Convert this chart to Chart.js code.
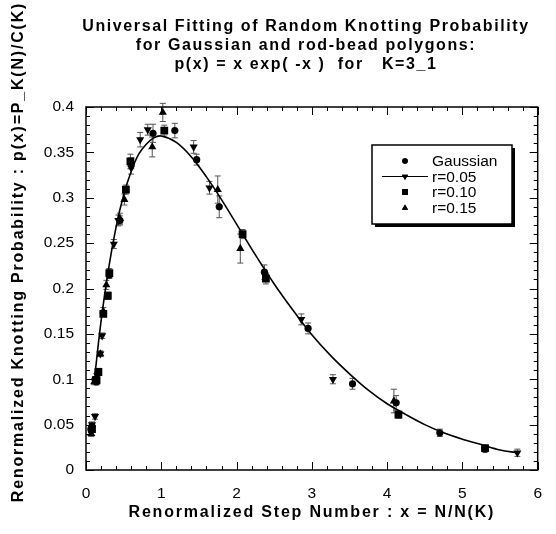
<!DOCTYPE html>
<html>
<head>
<meta charset="utf-8">
<script src="https://cdn.jsdelivr.net/npm/chart.js@4.4.1/dist/chart.umd.min.js"></script>
<style>
  html, body { margin: 0; padding: 0; background: #fff; }
  #wrap { width: 556px; height: 534px; }
</style>
</head>
<body>
<div id="wrap"><canvas id="knotChart" width="556" height="534"></canvas></div>
<script>
// --- data ---
const titleLines = [
  "Universal Fitting of Random Knotting Probability",
  "for Gaussian and rod-bead polygons:",
  "p(x) = x exp( -x )  for   K=3_1"
];
const xAxisTitle = "Renormalized Step Number : x = N/N(K)";
const yAxisTitle = "Renormalized Knotting Probability : p(x)=P_K(N)/C(K)";

const seriesNames = ["Gaussian", "r=0.05", "r=0.10", "r=0.15"];

const gaussX   = [0.065, 0.08, 0.12, 0.14, 0.31, 0.45, 0.60, 0.89, 1.18, 1.47, 1.77, 2.37, 2.95, 3.54, 4.12, 4.70, 5.30];
const gaussY   = [0.045, 0.048, 0.100, 0.097, 0.215, 0.275, 0.338, 0.371, 0.374, 0.342, 0.290, 0.218, 0.156, 0.095, 0.074, 0.041, 0.023];
const gaussErr = [0.003, 0.003, 0.003, 0.003, 0.004, 0.005, 0.006, 0.010, 0.008, 0.006, 0.012, 0.008, 0.006, 0.006, 0.008, 0.004, 0.003];

const r05X   = [0.08, 0.12, 0.15, 0.19, 0.215, 0.37, 0.43, 0.60, 0.72, 0.82, 1.43, 1.64, 2.86, 3.28, 5.73];
const r05Y   = [0.050, 0.059, 0.104, 0.128, 0.148, 0.249, 0.275, 0.333, 0.364, 0.375, 0.356, 0.311, 0.166, 0.100, 0.019];
const r05Err = [0.003, 0.003, 0.003, 0.003, 0.003, 0.005, 0.006, 0.007, 0.008, 0.006, 0.007, 0.007, 0.006, 0.005, 0.004];

const r10X   = [0.08, 0.14, 0.165, 0.23, 0.29, 0.31, 0.53, 0.59, 1.04, 2.08, 2.39, 4.15, 5.30];
const r10Y   = [0.045, 0.099, 0.108, 0.172, 0.192, 0.217, 0.309, 0.340, 0.374, 0.260, 0.211, 0.061, 0.024];
const r10Err = [0.003, 0.003, 0.004, 0.003, 0.004, 0.005, 0.005, 0.008, 0.006, 0.005, 0.006, 0.004, 0.003];

const r15X   = [0.07, 0.11, 0.19, 0.23, 0.27, 0.45, 0.51, 0.88, 1.02, 1.75, 2.05, 4.09];
const r15Y   = [0.040, 0.097, 0.128, 0.175, 0.204, 0.277, 0.298, 0.356, 0.394, 0.309, 0.244, 0.076];
const r15Err = [0.003, 0.003, 0.003, 0.004, 0.005, 0.006, 0.006, 0.011, 0.010, 0.015, 0.016, 0.013];

// fitted curve
const fitX = [0.12, 0.2, 0.3, 0.4, 0.5, 0.6, 0.7, 0.8, 0.9, 1.0, 1.2, 1.4, 1.6, 1.8, 2.0, 2.25, 2.5, 2.75, 3.0, 3.25, 3.5, 3.75, 4.0, 4.25, 4.5, 4.75, 5.0, 5.25, 5.5, 5.73];
const fitY = [0.106, 0.164, 0.222, 0.268, 0.303, 0.329, 0.348, 0.359, 0.366, 0.368, 0.361, 0.345, 0.323, 0.298, 0.271, 0.237, 0.205, 0.176, 0.149, 0.126, 0.106, 0.088, 0.073, 0.061, 0.050, 0.041, 0.034, 0.028, 0.022, 0.019];

const FONT = "'Liberation Sans', Arial, Helvetica, sans-serif";
const WIDE = "1.6px"; // the original lettering is spaced out

function pts(xs, ys, errs) {
  return xs.map((x, i) => ({ x: x, y: ys[i], err: errs ? errs[i] : 0 }));
}

// error bars, drawn through the scales
const errorBars = {
  id: "errorBars",
  beforeDatasetsDraw(chart) {
    const { ctx, scales: { x, y } } = chart;
    ctx.save();
    ctx.strokeStyle = "#555";
    ctx.lineWidth = 1;
    chart.data.datasets.forEach(ds => {
      if (!ds.withErr) return;
      ds.data.forEach(p => {
        if (!p.err) return;
        const px = x.getPixelForValue(p.x);
        const yTop = y.getPixelForValue(p.y + p.err);
        const yBot = y.getPixelForValue(p.y - p.err);
        ctx.beginPath();
        ctx.moveTo(px, yTop); ctx.lineTo(px, yBot);
        ctx.moveTo(px - 3, yTop); ctx.lineTo(px + 3, yTop);
        ctx.moveTo(px - 3, yBot); ctx.lineTo(px + 3, yBot);
        ctx.stroke();
      });
    });
    ctx.restore();
  }
};

// frame, inward ticks on all four sides, titles and the boxed legend
const frameAndLegend = {
  id: "frameAndLegend",
  afterDraw(chart) {
    const { ctx, chartArea: a, scales: { x, y } } = chart;
    ctx.save();
    ctx.strokeStyle = "#000";
    ctx.lineWidth = 1.5;
    ctx.strokeRect(a.left, a.top, a.right - a.left, a.bottom - a.top);

    ctx.lineWidth = 1;
    ctx.beginPath();
    for (let i = 0; i <= 30; i++) {
      const v = x.min + i * 0.2;
      const px = Math.round(x.getPixelForValue(v)) + 0.5;
      const len = i % 5 === 0 ? 8 : 4;
      ctx.moveTo(px, a.bottom); ctx.lineTo(px, a.bottom - len);
      ctx.moveTo(px, a.top); ctx.lineTo(px, a.top + len);
    }
    for (let i = 0; i <= 40; i++) {
      const v = y.min + i * 0.01;
      const py = Math.round(y.getPixelForValue(v)) + 0.5;
      const len = i % 5 === 0 ? 8 : 4;
      ctx.moveTo(a.left, py); ctx.lineTo(a.left + len, py);
      ctx.moveTo(a.right, py); ctx.lineTo(a.right - len, py);
    }
    ctx.stroke();

    // titles
    ctx.fillStyle = "#000";
    ctx.textAlign = "center";
    ctx.textBaseline = "alphabetic";
    ctx.font = "bold 16px " + FONT;
    ctx.letterSpacing = WIDE;
    titleLines.forEach((t, i) => ctx.fillText(t, 306, 31 + i * 19));

    ctx.textBaseline = "middle";
    ctx.letterSpacing = "1.8px";
    ctx.fillText(xAxisTitle, (a.left + a.right) / 2, 513);

    ctx.save();
    ctx.translate(19, 252);
    ctx.rotate(-Math.PI / 2);
    ctx.fillText(yAxisTitle, 0, 0);
    ctx.restore();
    ctx.letterSpacing = "0px";

    // legend
    const L = { left: 372, top: 145, w: 140, h: 79 };
    ctx.fillStyle = "#000";
    ctx.fillRect(L.left + 3, L.top + 3, L.w, L.h);
    ctx.fillStyle = "#fff";
    ctx.fillRect(L.left, L.top, L.w, L.h);
    ctx.lineWidth = 1.5;
    ctx.strokeRect(L.left, L.top, L.w, L.h);

    const drawPoint = Chart.helpers && Chart.helpers.drawPoint;
    ctx.font = "15.5px " + FONT;
    ctx.textAlign = "left";
    ctx.textBaseline = "middle";
    ctx.fillStyle = "#000";
    const rows = [161, 176.5, 192, 208];
    const legendStyles = [
      { style: "circle", r: 2.8, rot: 0 },
      { style: "triangle", r: 3.6, rot: 180 },
      { style: "rect", r: 4.2, rot: 0 },
      { style: "triangle", r: 3.6, rot: 0 }
    ];
    seriesNames.forEach((name, i) => {
      const ry = rows[i];
      if (i === 1) {
        ctx.lineWidth = 1.2;
        ctx.beginPath(); ctx.moveTo(382, ry); ctx.lineTo(428, ry); ctx.stroke();
      }
      if (drawPoint) {
        drawPoint(ctx, { pointStyle: legendStyles[i].style, radius: legendStyles[i].r, rotation: legendStyles[i].rot, borderWidth: 0 }, 405, ry);
        ctx.fill();
      }
      ctx.fillText(name, 432, ry + 1);
    });
    ctx.restore();
  }
};

const markerBase = { showLine: false, borderColor: "#000", backgroundColor: "#000", borderWidth: 0, withErr: true };

new Chart(document.getElementById("knotChart"), {
  type: "scatter",
  data: {
    datasets: [
      { label: "fit", data: pts(fitX, fitY), showLine: true, pointRadius: 0, borderColor: "#000", borderWidth: 1.6, tension: 0.35, fill: false },
      { ...markerBase, label: seriesNames[0], data: pts(gaussX, gaussY, gaussErr), pointStyle: "circle", pointRadius: 3.6 },
      { ...markerBase, label: seriesNames[1], data: pts(r05X, r05Y, r05Err), pointStyle: "triangle", pointRotation: 180, pointRadius: 4.7 },
      { ...markerBase, label: seriesNames[2], data: pts(r10X, r10Y, r10Err), pointStyle: "rect", pointRadius: 5.5 },
      { ...markerBase, label: seriesNames[3], data: pts(r15X, r15Y, r15Err), pointStyle: "triangle", pointRadius: 4.7 }
    ]
  },
  options: {
    responsive: false,
    animation: false,
    devicePixelRatio: 1,
    layout: { padding: { top: 107, right: 6, left: 0, bottom: 0 } },
    plugins: { legend: { display: false }, title: { display: false }, tooltip: { enabled: false } },
    scales: {
      x: {
        type: "linear", min: 0, max: 6,
        grid: { display: false, drawTicks: false },
        border: { display: false },
        ticks: { stepSize: 1, padding: 14, color: "#000", font: { family: FONT, size: 15.5 } },
        afterFit(s) { s.height = 64; }
      },
      y: {
        type: "linear", min: 0, max: 0.4,
        grid: { display: false, drawTicks: false },
        border: { display: false },
        ticks: { stepSize: 0.05, padding: 12, color: "#000", font: { family: FONT, size: 15.5 },
                 callback: v => String(Math.round(v * 100) / 100) },
        afterFit(s) { s.width = 86; }
      }
    }
  },
  plugins: [errorBars, frameAndLegend]
});
</script>
</body>
</html>
